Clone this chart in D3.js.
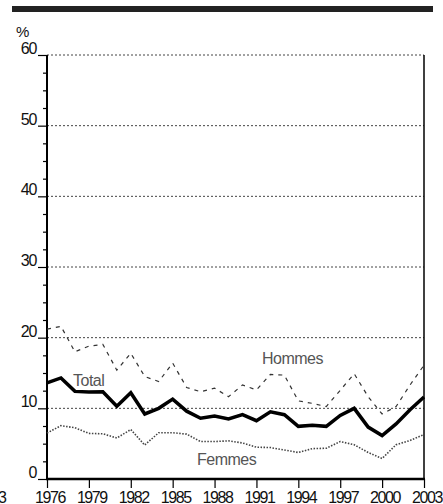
<!DOCTYPE html>
<html>
<head>
<meta charset="utf-8">
<script src="https://cdn.jsdelivr.net/npm/d3@7"></script>
<style>
  body { margin: 0; background: #fff; }
  text { font-family: "Liberation Sans", Arial, sans-serif; }
</style>
</head>
<body>
<script>
// data
var years = d3.range(1976, 2004);
var total = [13.6, 14.3, 12.4, 12.3, 12.35, 10.3, 12.2, 9.2, 10.0, 11.3, 9.6, 8.6, 8.9, 8.5,
             9.1, 8.25, 9.5, 9.1, 7.45, 7.6, 7.45, 9.0, 10.0, 7.35, 6.15, 7.8, 9.8, 11.6];
var hommes = [21.2, 21.6, 18.0, 18.8, 19.05, 15.4, 17.8, 14.5, 13.8, 16.4, 12.95, 12.35, 12.85, 11.65,
              13.3, 12.6, 14.8, 14.7, 11.05, 10.7, 10.25, 12.55, 14.9, 11.65, 9.2, 10.25, 13.3, 16.1];
var femmes = [6.5, 7.55, 7.25, 6.45, 6.4, 5.8, 7.0, 4.8, 6.55, 6.55, 6.35, 5.3, 5.3, 5.4,
              5.1, 4.5, 4.45, 4.1, 3.75, 4.3, 4.35, 5.3, 4.85, 3.75, 2.9, 4.85, 5.45, 6.3];
var yTicks = [0, 10, 20, 30, 40, 50, 60];
var xTicks = [1976, 1979, 1982, 1985, 1988, 1991, 1994, 1997, 2000, 2003];

var width = 443, height = 504;
var margin = {top: 55, right: 19, bottom: 25, left: 47};

var svg = d3.select("body").append("svg")
    .attr("width", width)
    .attr("height", height);

var x = d3.scaleLinear().domain([1976, 2003]).range([margin.left, width - margin.right]);
var y = d3.scaleLinear().domain([0, 60]).range([height - margin.bottom, margin.top]);

// heavy bar at the top
svg.append("rect")
    .attr("x", 12).attr("y", 6)
    .attr("width", 421).attr("height", 6)
    .attr("fill", "#222");

// dotted grid lines
svg.selectAll(".grid")
    .data(yTicks)
    .enter().append("line")
    .attr("x1", x(1976)).attr("x2", x(2003))
    .attr("y1", function(d) { return y(d); })
    .attr("y2", function(d) { return y(d); })
    .attr("stroke", "#444")
    .attr("stroke-width", 1)
    .attr("stroke-dasharray", "2,2");

// y axis: major ticks + minor ticks every 2.5
var yAxis = svg.append("g")
    .attr("transform", "translate(" + margin.left + ",0)")
    .call(d3.axisLeft(y).tickValues(d3.range(0, 61, 2.5)).tickSize(4).tickFormat(""));
yAxis.select(".domain").remove();
yAxis.selectAll(".tick line").attr("stroke-width", 1.2)
    .attr("x2", function(d) { return d % 10 === 0 ? -9 : -4; });

svg.append("line")
    .attr("x1", x(1976)).attr("x2", x(1976))
    .attr("y1", y(60)).attr("y2", y(0))
    .attr("stroke", "#000").attr("stroke-width", 2);
svg.append("line")
    .attr("x1", x(2003)).attr("x2", x(2003))
    .attr("y1", y(60)).attr("y2", y(0))
    .attr("stroke", "#000").attr("stroke-width", 1.5);

svg.selectAll(".ylab")
    .data(yTicks)
    .enter().append("text")
    .attr("x", 36)
    .attr("y", function(d) { return y(d) - 1; })
    .attr("text-anchor", "end")
    .attr("font-size", 16)
    .attr("letter-spacing", -1.3)
    .attr("fill", "#111")
    .text(function(d) { return d; });

svg.append("text")
    .attr("x", 16).attr("y", 37)
    .attr("font-size", 15)
    .attr("fill", "#111")
    .text("%");

// x axis
var xAxis = svg.append("g")
    .attr("transform", "translate(0," + y(0) + ")")
    .call(d3.axisBottom(x).tickValues(xTicks).tickSize(9).tickFormat(""));
xAxis.select(".domain").remove();
xAxis.selectAll(".tick line").attr("stroke-width", 1.2);

svg.append("line")
    .attr("x1", x(1976) - 1).attr("x2", x(2003) + 1)
    .attr("y1", y(0)).attr("y2", y(0))
    .attr("stroke", "#000").attr("stroke-width", 2.5);

svg.selectAll(".xlab")
    .data(xTicks)
    .enter().append("text")
    .attr("x", function(d) { return x(d) + 3; })
    .attr("y", 503)
    .attr("text-anchor", "middle")
    .attr("font-size", 16)
    .attr("letter-spacing", -1.4)
    .attr("fill", "#111")
    .text(function(d) { return d; });

// stray label cut off at the left edge
svg.append("text")
    .attr("x", 7).attr("y", 503)
    .attr("text-anchor", "end")
    .attr("font-size", 16)
    .attr("fill", "#111")
    .text("1973");

// the lines
function makeLine(values) {
    return d3.line()
        .x(function(d, i) { return x(years[i]); })
        .y(function(d) { return y(d); })(values);
}

svg.append("path")
    .attr("d", makeLine(hommes))
    .attr("fill", "none")
    .attr("stroke", "#333")
    .attr("stroke-width", 1.2)
    .attr("stroke-dasharray", "4,5");

svg.append("path")
    .attr("d", makeLine(femmes))
    .attr("fill", "none")
    .attr("stroke", "#444")
    .attr("stroke-width", 1.6)
    .attr("stroke-dasharray", "1.5,1.5");

svg.append("path")
    .attr("d", makeLine(total))
    .attr("fill", "none")
    .attr("stroke", "#000")
    .attr("stroke-width", 3.5)
    .attr("stroke-linejoin", "miter");

// series labels
var labels = [
    {t: "Total", x: 73, y: 386},
    {t: "Hommes", x: 262, y: 364},
    {t: "Femmes", x: 197, y: 465}
];
svg.selectAll(".slab")
    .data(labels)
    .enter().append("text")
    .attr("x", function(d) { return d.x; })
    .attr("y", function(d) { return d.y; })
    .attr("font-size", 16)
    .attr("letter-spacing", -0.5)
    .attr("fill", "#555")
    .text(function(d) { return d.t; });
</script>
</body>
</html>
